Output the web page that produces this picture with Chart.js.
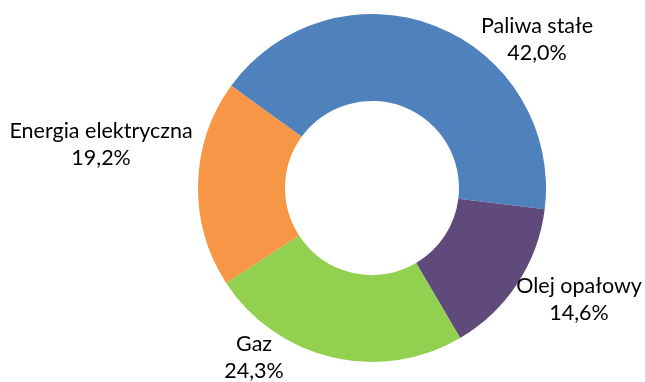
<!DOCTYPE html>
<html>
<head>
<meta charset="utf-8">
<script src="https://cdn.jsdelivr.net/npm/chart.js@4/dist/chart.umd.min.js"></script>
<style>
    html, body { margin: 0; padding: 0; background: #fff; }
    #wrap { width: 645px; height: 382px; position: relative; }
</style>
</head>
<body>
<div id="wrap"><canvas id="myChart" width="645" height="382"></canvas></div>
<script>
let categories = ['Paliwa stałe', 'Olej opałowy', 'Gaz', 'Energia elektryczna'];
let shares = [42.0, 14.6, 24.3, 19.2];
let sliceColors = ['#4F81BD', '#604A7B', '#92D050', '#F79646'];

// label block centres, in units of the outer radius from the ring centre
let labelOffsets = [[0.948, -0.851], [1.19, 0.644], [-0.678, 0.977], [-1.557, -0.25]];

function formatShare(v) {
    return v.toFixed(1).replace('.', ',') + '%';
}

let outsideLabels = {
    id: 'outsideLabels',
    afterDatasetsDraw(chart) {
        let ctx = chart.ctx;
        let meta = chart.getDatasetMeta(0);
        let arc = meta.data[0];
        let cx = arc.x, cy = arc.y, r = arc.outerRadius;
        ctx.save();
        ctx.font = '21.5px Lato';
        ctx.fillStyle = '#000';
        ctx.textAlign = 'center';
        ctx.textBaseline = 'middle';
        categories.forEach(function (name, i) {
            let x = cx + labelOffsets[i][0] * r;
            let y = cy + labelOffsets[i][1] * r;
            ctx.fillText(name, x, y - 13.5);
            ctx.fillText(formatShare(shares[i]), x, y + 13.5);
        });
        ctx.restore();
    }
};

let ctx = document.getElementById('myChart').getContext('2d');
let myChart = new Chart(ctx, {
    type: 'doughnut',
    data: {
        labels: categories,
        datasets: [{
            data: shares,
            backgroundColor: sliceColors,
            borderWidth: 0
        }]
    },
    options: {
        responsive: false,
        animation: false,
        rotation: -54,
        cutout: '50%',
        layout: {
            padding: { top: 14, bottom: 20, left: 198, right: 99 }
        },
        plugins: {
            legend: { display: false },
            tooltip: { enabled: false }
        }
    },
    plugins: [outsideLabels]
});
</script>
</body>
</html>
